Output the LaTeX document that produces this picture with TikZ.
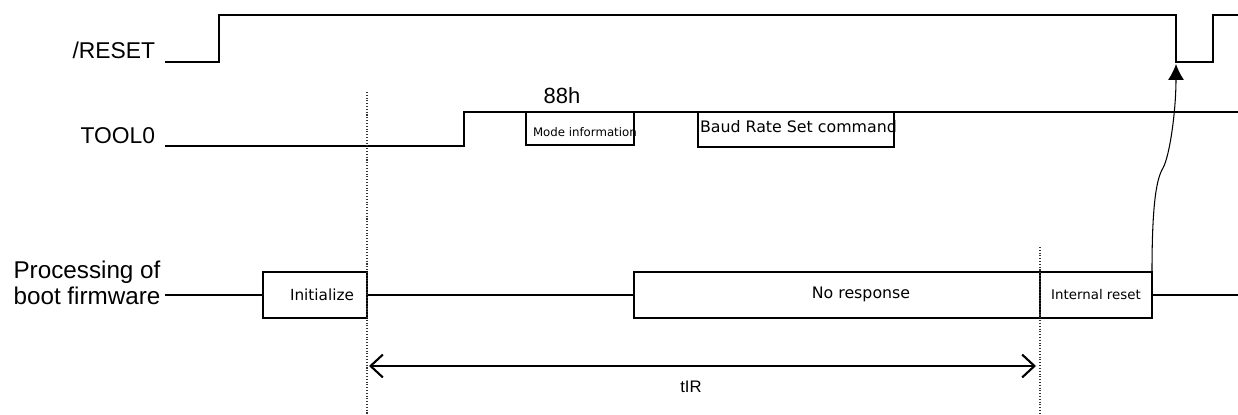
\documentclass[tikz,border=0pt]{standalone}
\usepackage{fontspec}
\setmainfont{Liberation Sans}
\newfontfamily\boxfont{DejaVu Sans}
\usetikzlibrary{arrows.meta}

\begin{document}
\begin{tikzpicture}[x=0.02cm, y=-0.02cm,
    every node/.style={inner sep=0, outer sep=0},
    sig/.style={line width=1.4pt, line join=miter},
    frame/.style={draw, line width=1.4pt, minimum height=0.92cm},
    lbl/.style={font=\fontsize{13}{14.7}\selectfont},
    guide/.style={densely dotted, line width=0.6pt, black!80},
    span/.style={line width=1.2pt, {Straight Barb[length=7pt,width=13pt,line width=1.2pt]}-{Straight Barb[length=7pt,width=13pt,line width=1.2pt]}},
    trig/.style={line width=0.6pt, -{Latex[length=9pt,width=9pt]}}]
  \useasboundingbox (0,0) rectangle (1238,415);
  \node (rstname) [lbl, anchor=east] at (155,50) {/RESET};
  \node (toolname) [lbl, anchor=east] at (155,136) {TOOL0};
  \node (procname) [font=\fontsize{13.8}{15}\selectfont, align=center] at (87,283) {Processing of\\boot firmware};
  % /RESET
  \draw[sig] (165,62) -- (219,62) -- (219,15) -- (1176,15) -- (1176,62) -- (1213,62) -- (1213,15) -- (1238,15);
  \coordinate (rstlow) at (1176,64);
  % TOOL0
  \draw[sig] (165,146) -- (464,146) -- (464,112) -- (1238,112);
  \node (mode) [frame, minimum width=2.16cm, minimum height=0.66cm, anchor=north west] at (526,112) {};
  \node (modetxt) [anchor=west, font=\boxfont\fontsize{6.7}{8}\selectfont] at (533,132) {Mode information};
  \node (hexval) [font=\fontsize{12.5}{14}\selectfont] at (562,96) {88h};
  \node (baud) [frame, minimum width=3.92cm, minimum height=0.7cm, anchor=north west] at (698,112) {};
  \node (baudtxt) [anchor=west, font=\boxfont\fontsize{9}{11}\selectfont] at (700,127) {Baud Rate Set command};
  % boot firmware
  \coordinate (pstart) at (165,295);
  \coordinate (pend) at (1238,295);
  \node (init) [frame, minimum width=2.08cm, font=\boxfont\fontsize{8.7}{10}\selectfont] at (315,295) {\hspace{0.28cm}Initialize};
  \node (noresp) [frame, minimum width=8.12cm] at (837,295) {};
  \node (noresptxt) [font=\boxfont\fontsize{9}{11}\selectfont] at (861,294) {No response};
  \node (intreset) [frame, minimum width=2.24cm, font=\boxfont\fontsize{7.6}{9}\selectfont] at (1096,295) {Internal reset};
  \draw[sig] (pstart) -- (init);
  \draw[sig] (init) -- (noresp);
  \draw[sig] (intreset) -- (pend);
  % timing
  \draw[guide] (367,92) -- (367,415);
  \draw[guide] (1040,247) -- (1040,415);
  \coordinate (tstart) at (369,366);
  \coordinate (tend) at (1036,366);
  \draw[span] (tstart) -- (tend);
  \node (tir) [font=\fontsize{9.5}{11}\selectfont] at (691,387) {tIR};
  \draw[trig] (intreset.north east) .. controls (1152,200) and (1157,178) .. (1163,168) .. controls (1170,155) and (1176,110) .. (rstlow);
\end{tikzpicture}
\end{document}
